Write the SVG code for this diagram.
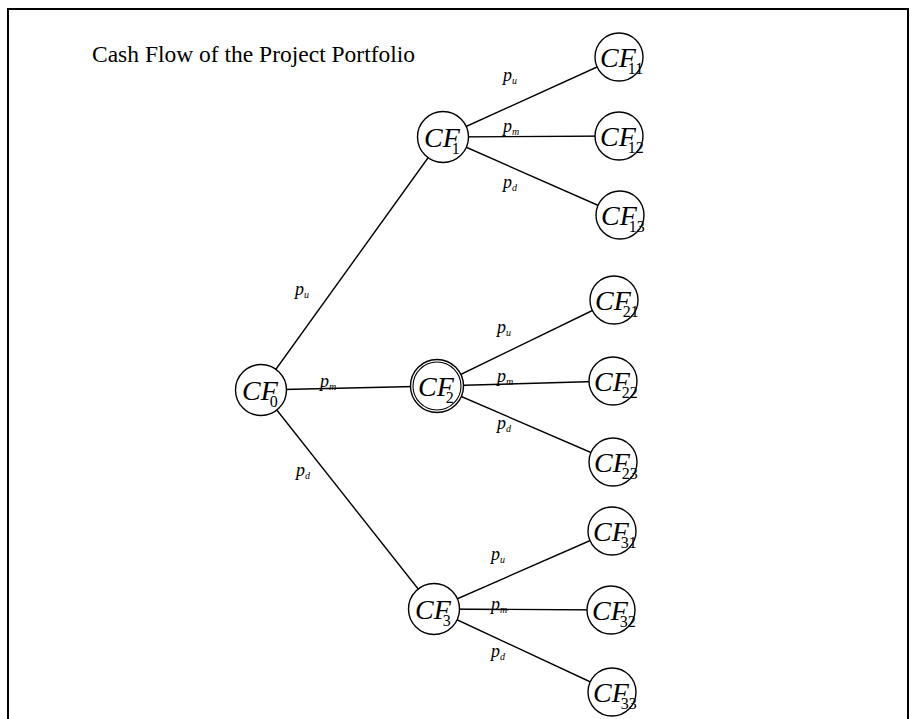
<svg xmlns="http://www.w3.org/2000/svg" width="916" height="719" viewBox="0 0 916 719">
<style>
.frame{fill:none;stroke:#000;stroke-width:2}
.edge{stroke:#000;stroke-width:1.4;fill:none}
.node{fill:#fff;stroke:#000;stroke-width:1.4}
.inner{fill:none;stroke:#000;stroke-width:1.1}
.cf{font-family:"Liberation Serif","Times New Roman",serif;font-style:italic;font-size:28px;fill:#000}
.sub{font-style:normal;font-size:16px}
.lbl{font-family:"Liberation Serif","Times New Roman",serif;font-style:italic;font-size:18px;fill:#000}
.ls{font-size:10px}
.title{font-family:"Liberation Serif","Times New Roman",serif;font-size:23.5px;fill:#000}
</style>
<rect width="916" height="719" fill="#fff"/>
<path class="frame" d="M8,725 V9 H908 V725"/>
<text class="title" x="92" y="62">Cash Flow of the Project Portfolio</text>
<g id="connectors">
<line class="edge" x1="261" y1="390" x2="443" y2="137"/>
<line class="edge" x1="261" y1="390" x2="437" y2="386"/>
<line class="edge" x1="261" y1="390" x2="434" y2="609"/>
<line class="edge" x1="443" y1="137" x2="619" y2="57"/>
<line class="edge" x1="443" y1="137" x2="619" y2="136"/>
<line class="edge" x1="443" y1="137" x2="620" y2="215"/>
<line class="edge" x1="437" y1="386" x2="614" y2="300"/>
<line class="edge" x1="437" y1="386" x2="613" y2="381"/>
<line class="edge" x1="437" y1="386" x2="613" y2="462"/>
<line class="edge" x1="434" y1="609" x2="612" y2="531"/>
<line class="edge" x1="434" y1="609" x2="611" y2="610"/>
<line class="edge" x1="434" y1="609" x2="612" y2="692"/>
</g>
<g id="labels">
<text class="lbl" x="295" y="295">p<tspan class="ls" dy="3">u</tspan></text>
<text class="lbl" x="320" y="387">p<tspan class="ls" dy="3">m</tspan></text>
<text class="lbl" x="296" y="476">p<tspan class="ls" dy="3">d</tspan></text>
<text class="lbl" x="503" y="81">p<tspan class="ls" dy="3">u</tspan></text>
<text class="lbl" x="503" y="132">p<tspan class="ls" dy="3">m</tspan></text>
<text class="lbl" x="503" y="188">p<tspan class="ls" dy="3">d</tspan></text>
<text class="lbl" x="497" y="333">p<tspan class="ls" dy="3">u</tspan></text>
<text class="lbl" x="497" y="382">p<tspan class="ls" dy="3">m</tspan></text>
<text class="lbl" x="497" y="429">p<tspan class="ls" dy="3">d</tspan></text>
<text class="lbl" x="491" y="560">p<tspan class="ls" dy="3">u</tspan></text>
<text class="lbl" x="491" y="610">p<tspan class="ls" dy="3">m</tspan></text>
<text class="lbl" x="491" y="657">p<tspan class="ls" dy="3">d</tspan></text>
</g>
<g id="CF0"><circle class="node" cx="261" cy="390" r="25.5"/><text class="cf" x="242" y="400">CF<tspan class="sub" dx="-8" dy="7">0</tspan></text></g>
<g id="CF1"><circle class="node" cx="443" cy="137" r="25.5"/><text class="cf" x="424" y="147">CF<tspan class="sub" dx="-8" dy="7">1</tspan></text></g>
<g id="CF2"><circle class="node" cx="437" cy="386" r="26.5"/><circle class="inner" cx="437" cy="386" r="24"/><text class="cf" x="418" y="396">CF<tspan class="sub" dx="-8" dy="7">2</tspan></text></g>
<g id="CF3"><circle class="node" cx="434" cy="609" r="25.5"/><text class="cf" x="415" y="619">CF<tspan class="sub" dx="-8" dy="7">3</tspan></text></g>
<g id="CF11"><circle class="node" cx="619" cy="57" r="24"/><text class="cf" x="600" y="67">CF<tspan class="sub" dx="-8" dy="7">11</tspan></text></g>
<g id="CF12"><circle class="node" cx="619" cy="136" r="24"/><text class="cf" x="600" y="146">CF<tspan class="sub" dx="-8" dy="7">12</tspan></text></g>
<g id="CF13"><circle class="node" cx="620" cy="215" r="24"/><text class="cf" x="601" y="225">CF<tspan class="sub" dx="-8" dy="7">13</tspan></text></g>
<g id="CF21"><circle class="node" cx="614" cy="300" r="24"/><text class="cf" x="595" y="310">CF<tspan class="sub" dx="-8" dy="7">21</tspan></text></g>
<g id="CF22"><circle class="node" cx="613" cy="381" r="24"/><text class="cf" x="594" y="391">CF<tspan class="sub" dx="-8" dy="7">22</tspan></text></g>
<g id="CF23"><circle class="node" cx="613" cy="462" r="24"/><text class="cf" x="594" y="472">CF<tspan class="sub" dx="-8" dy="7">23</tspan></text></g>
<g id="CF31"><circle class="node" cx="612" cy="531" r="24"/><text class="cf" x="593" y="541">CF<tspan class="sub" dx="-8" dy="7">31</tspan></text></g>
<g id="CF32"><circle class="node" cx="611" cy="610" r="24"/><text class="cf" x="592" y="620">CF<tspan class="sub" dx="-8" dy="7">32</tspan></text></g>
<g id="CF33"><circle class="node" cx="612" cy="692" r="24"/><text class="cf" x="593" y="702">CF<tspan class="sub" dx="-8" dy="7">33</tspan></text></g>
</svg>
